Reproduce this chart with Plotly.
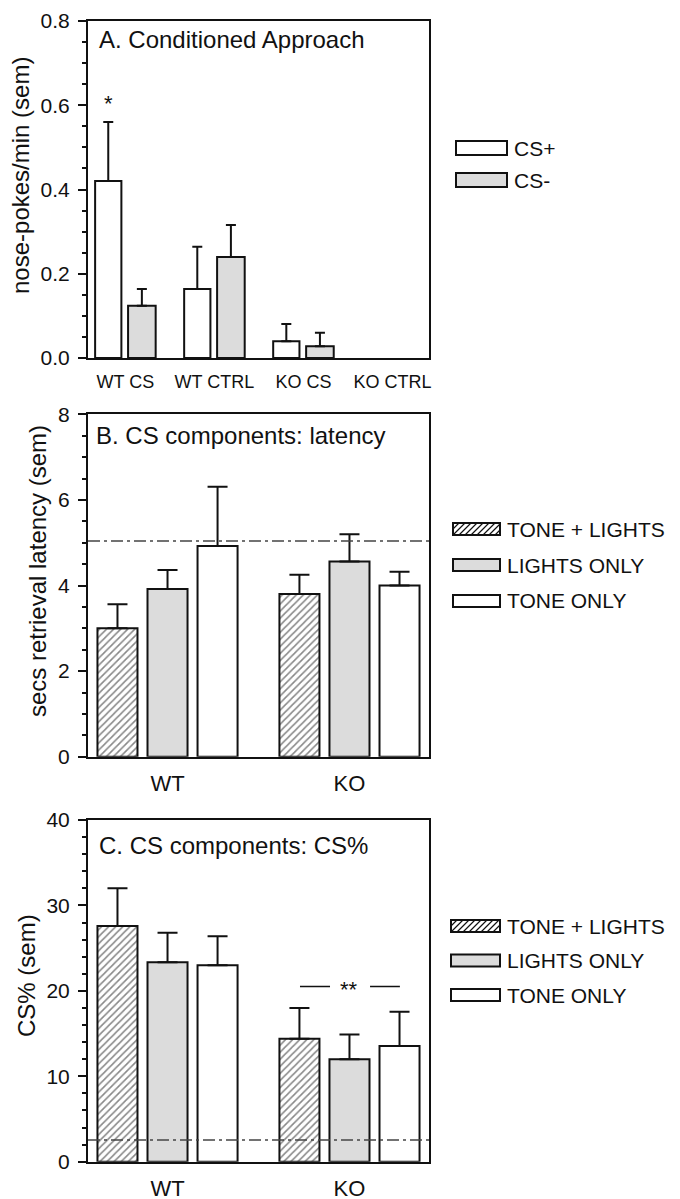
import plotly.graph_objects as go

W, H = 680, 1199
OFF = 8  # page body margin in the viewer

# ---------------- data ----------------
a_groups = ["WT CS", "WT CTRL", "KO CS", "KO CTRL"]
a_cs_plus = [0.420, 0.164, 0.040, None]
a_cs_plus_sem = [0.140, 0.100, 0.041, None]
a_cs_minus = [0.124, 0.240, 0.028, None]
a_cs_minus_sem = [0.040, 0.076, 0.032, None]

b_groups = ["WT", "KO"]
b_tone_lights = [3.00, 3.80]
b_tone_lights_sem = [0.56, 0.45]
b_lights_only = [3.92, 4.56]
b_lights_only_sem = [0.44, 0.64]
b_tone_only = [4.92, 4.00]
b_tone_only_sem = [1.39, 0.32]
b_ref = 5.04

c_groups = ["WT", "KO"]
c_tone_lights = [27.6, 14.4]
c_tone_lights_sem = [4.4, 3.6]
c_lights_only = [23.35, 12.0]
c_lights_only_sem = [3.45, 2.9]
c_tone_only = [23.0, 13.55]
c_tone_only_sem = [3.4, 4.0]
c_ref = 2.54
c_sig_y = 20.5

FONT = "Liberation Sans, Arial, sans-serif"
GRAY = "#dcdcdc"
BLACK = "#111111"


def px(x, y):
    return (x - OFF) / W, 1 - (y - OFF) / H


fig = go.Figure()


def add_bar(x, y, sem, xa, ya, offset, width, fill, hatch=False, capw=5, name=""):
    marker = dict(color=fill, line=dict(color=BLACK, width=2))
    if hatch:
        marker["pattern"] = dict(shape="/", size=5, solidity=0.32, fgcolor=BLACK, bgcolor="white")
    fig.add_trace(go.Bar(
        x=x, y=y, xaxis=xa, yaxis=ya, offset=offset, width=width, name=name,
        marker=marker, showlegend=False,
        error_y=dict(type="data", array=sem, arrayminus=[0] * len(sem), symmetric=False,
                     color=BLACK, thickness=2, width=capw),
    ))


# Panel A
add_bar(a_groups, a_cs_plus, a_cs_plus_sem, "x", "y", -0.34, 0.295, "white", name="CS+")
add_bar(a_groups, a_cs_minus, a_cs_minus_sem, "x", "y", 0.03, 0.31, GRAY, name="CS-")
# Panel B
add_bar(b_groups, b_tone_lights, b_tone_lights_sem, "x2", "y2", -0.385, 0.22, "white", hatch=True, capw=10)
add_bar(b_groups, b_lights_only, b_lights_only_sem, "x2", "y2", -0.11, 0.22, GRAY, capw=10)
add_bar(b_groups, b_tone_only, b_tone_only_sem, "x2", "y2", 0.165, 0.22, "white", capw=10)
# Panel C
add_bar(c_groups, c_tone_lights, c_tone_lights_sem, "x3", "y3", -0.385, 0.22, "white", hatch=True, capw=10)
add_bar(c_groups, c_lights_only, c_lights_only_sem, "x3", "y3", -0.11, 0.22, GRAY, capw=10)
add_bar(c_groups, c_tone_only, c_tone_only_sem, "x3", "y3", 0.165, 0.22, "white", capw=10)

xdom = [(88 - OFF) / W, (429 - OFF) / W]


def ydom(top, bottom):
    return [1 - (bottom - OFF) / H, 1 - (top - OFF) / H]


def xaxis(dom_anchor, rng, fsize):
    return dict(domain=xdom, anchor=dom_anchor, range=rng, showline=True, linewidth=2,
                linecolor=BLACK, mirror=True, ticks="", showgrid=False, zeroline=False,
                tickfont=dict(family=FONT, size=fsize, color=BLACK), ticklabelstandoff=6,
                fixedrange=True, automargin=False, ticklabeloverflow="allow")


def yaxis(dom, anchor, rng, dtick, minor, fmt=None):
    d = dict(domain=dom, anchor=anchor, range=rng, dtick=dtick, tick0=0, showline=True,
             linewidth=2, linecolor=BLACK, mirror=True, ticks="outside", ticklen=8,
             tickwidth=2, tickcolor=BLACK, showgrid=False, zeroline=False,
             minor=dict(dtick=minor, ticks="outside", ticklen=4, tickwidth=1.5, tickcolor=BLACK),
             tickfont=dict(family=FONT, size=21, color=BLACK), ticklabelstandoff=4,
             fixedrange=True, automargin=False, ticklabeloverflow="allow")
    if fmt:
        d["tickformat"] = fmt
    return d


fig.update_layout(
    width=W, height=H, margin=dict(l=0, r=0, t=0, b=0, pad=0, autoexpand=False),
    paper_bgcolor="white", plot_bgcolor="white", barmode="overlay", showlegend=False,
    font=dict(family=FONT, color=BLACK),
    xaxis=xaxis("y", [-0.42, 3.41], 18),
    yaxis=yaxis(ydom(21, 358), "x", [0, 0.8], 0.2, 0.05, ".1f"),
    xaxis2=xaxis("y2", [-0.437, 1.437], 22),
    yaxis2=yaxis(ydom(414.3, 756.7), "x2", [0, 8], 2, 0.5),
    xaxis3=xaxis("y3", [-0.437, 1.437], 22),
    yaxis3=yaxis(ydom(820, 1161.7), "x3", [0, 40], 10, 2),
)

# reference dash-dot lines
for xr, yr, val in [("x2", "y2", b_ref), ("x3", "y3", c_ref)]:
    fig.add_shape(type="line", xref=xr + " domain", yref=yr, x0=0, x1=1, y0=val, y1=val,
                  line=dict(color="#444444", width=1.5, dash="12px,4px,3px,4px"), layer="above")

# significance marks
fig.add_annotation(x=-0.34 + 0.295 / 2, y=a_cs_plus[0] + a_cs_plus_sem[0], xref="x", yref="y",
                   text="*", showarrow=False, yanchor="bottom", yshift=4,
                   font=dict(family=FONT, size=22, color=BLACK))
for x0, x1 in [(0.728, 0.893), (1.113, 1.277)]:
    fig.add_shape(type="line", xref="x3", yref="y3", x0=x0, x1=x1, y0=c_sig_y, y1=c_sig_y,
                  line=dict(color=BLACK, width=1.5))
fig.add_annotation(x=1.0, y=c_sig_y, xref="x3", yref="y3", text="**", showarrow=False,
                   yanchor="middle", yshift=-3, font=dict(family=FONT, size=22, color=BLACK))

# panel titles
for txt, x, y in [("A. Conditioned Approach", 97, 40), ("B. CS components: latency", 94, 435),
                  ("C. CS components: CS%", 97, 845)]:
    ax, ay = px(x, y)
    fig.add_annotation(x=ax, y=ay, xref="paper", yref="paper", text=txt, showarrow=False,
                       xanchor="left", yanchor="middle", font=dict(family=FONT, size=24, color=BLACK))

# y axis titles
for txt, x, y in [("nose-pokes/min (sem)", 21, 176), ("secs retrieval latency (sem)", 37, 571),
                  ("CS% (sem)", 26, 976)]:
    ax, ay = px(x, y)
    fig.add_annotation(x=ax, y=ay, xref="paper", yref="paper", text=txt, showarrow=False,
                       textangle=-90, xanchor="center", yanchor="middle",
                       font=dict(family=FONT, size=24, color=BLACK))


# custom legends
def legend_item(x0, x1, yc, h, fill, label, tx, hatch=False):
    top, bot = yc - h / 2, yc + h / 2
    p0 = px(x0, top)
    p1 = px(x1, bot)
    fig.add_shape(type="rect", xref="paper", yref="paper", x0=p0[0], y0=p1[1], x1=p1[0], y1=p0[1],
                  fillcolor=fill, line=dict(color=BLACK, width=2))
    if hatch:
        path = ""
        s = x0 - h
        while s < x1:
            sx, sy = s, bot
            ex, ey = s + h, top
            if sx < x0:
                sy = bot - (x0 - sx)
                sx = x0
            if ex > x1:
                ey = top + (ex - x1)
                ex = x1
            if ex > sx:
                a = px(sx, sy)
                b = px(ex, ey)
                path += f"M{a[0]:.5f},{a[1]:.5f}L{b[0]:.5f},{b[1]:.5f}"
            s += 6
        fig.add_shape(type="path", xref="paper", yref="paper", path=path,
                      line=dict(color=BLACK, width=1.2))
    t = px(tx, yc)
    fig.add_annotation(x=t[0], y=t[1], xref="paper", yref="paper", text=label, showarrow=False,
                       xanchor="left", yanchor="middle", font=dict(family=FONT, size=21, color=BLACK))


legend_item(456, 507, 148, 14, "white", "CS+", 512)
legend_item(456, 507, 180, 14, GRAY, "CS-", 512)

for yc0, spacing, bx0 in [(529, 36, 453), (926, 34.5, 451)]:
    legend_item(bx0, 500, yc0, 12, "white", "TONE + LIGHTS", 505, hatch=True)
    legend_item(bx0, 500, yc0 + spacing, 12, GRAY, "LIGHTS ONLY", 505)
    legend_item(bx0, 500, yc0 + 2 * spacing, 12, "white", "TONE ONLY", 505)

fig.write_html("out.html")
